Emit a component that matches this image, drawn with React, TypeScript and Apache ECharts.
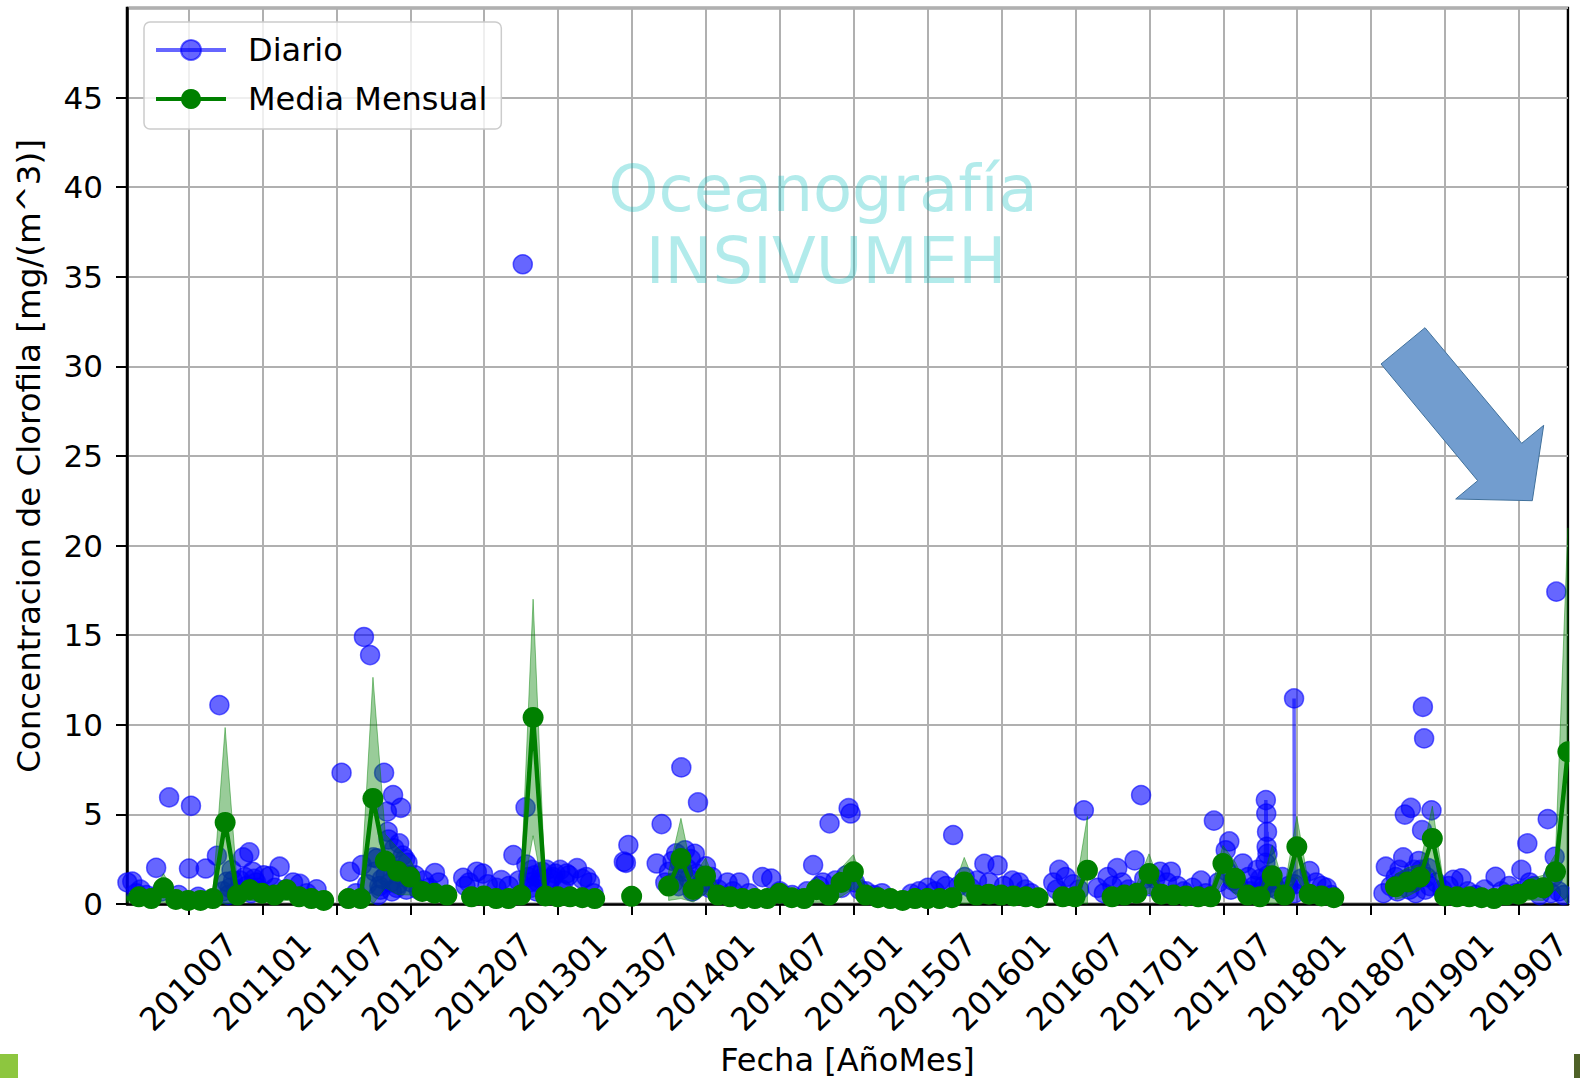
import React, { useEffect, useRef } from "react";
import * as echarts from "echarts";

// ---- Daily chlorophyll (Diario): [date, mg/m^3] ----
const diario2010: [string, number][] = [
  ["2010-02-02", 1.2], ["2010-02-13", 1.25], ["2010-02-22", 0.6], ["2010-03-04", 0.8], ["2010-03-19", 0.5],
  ["2010-04-12", 2.02], ["2010-04-25", 0.7], ["2010-05-14", 5.95], ["2010-06-07", 0.5], ["2010-07-02", 1.98],
  ["2010-07-07", 5.48], ["2010-07-25", 0.4], ["2010-08-13", 1.98], ["2010-09-10", 2.69], ["2010-09-16", 11.1],
  ["2010-09-25", 0.7], ["2010-10-04", 1.24], ["2010-10-08", 0.5], ["2010-10-12", 0.9], ["2010-10-16", 1.9],
  ["2010-10-20", 1.3], ["2010-10-28", 0.6], ["2010-11-03", 0.8], ["2010-11-07", 1.3], ["2010-11-14", 2.6],
  ["2010-11-18", 1.5], ["2010-11-22", 1.0], ["2010-11-29", 2.88], ["2010-12-03", 0.6], ["2010-12-07", 1.8],
  ["2010-12-11", 1.4], ["2010-12-16", 1.2], ["2010-12-20", 0.9], ["2010-12-25", 0.7],
];
const diario2011: [string, number][] = [
  ["2011-01-04", 1.6], ["2011-01-19", 1.55], ["2011-02-01", 0.9], ["2011-02-12", 2.08], ["2011-02-25", 0.8],
  ["2011-03-16", 1.2], ["2011-04-02", 1.12], ["2011-04-19", 0.6], ["2011-05-13", 0.82], ["2011-07-14", 7.32],
  ["2011-08-04", 1.8], ["2011-08-19", 0.6], ["2011-09-03", 2.17], ["2011-09-08", 14.9], ["2011-09-16", 1.1],
  ["2011-09-23", 13.89], ["2011-10-01", 2.6], ["2011-10-05", 1.8], ["2011-10-10", 2.55], ["2011-10-13", 0.5],
  ["2011-10-16", 1.0], ["2011-10-19", 0.8], ["2011-10-23", 1.4], ["2011-10-28", 7.32], ["2011-11-01", 1.6],
  ["2011-11-04", 5.15], ["2011-11-06", 4.03], ["2011-11-08", 3.6], ["2011-11-13", 1.2], ["2011-11-16", 0.7],
  ["2011-11-19", 6.08], ["2011-11-22", 3.1], ["2011-11-25", 1.9], ["2011-11-28", 0.9], ["2011-12-01", 1.1],
  ["2011-12-04", 3.38], ["2011-12-08", 5.37], ["2011-12-13", 2.7], ["2011-12-16", 1.5], ["2011-12-19", 2.5],
  ["2011-12-22", 0.8], ["2011-12-25", 2.3], ["2011-12-29", 1.6],
];
const diario2012: [string, number][] = [
  ["2012-01-04", 1.2], ["2012-01-13", 1.6], ["2012-01-22", 0.8], ["2012-02-04", 1.3], ["2012-02-16", 0.9],
  ["2012-03-01", 1.73], ["2012-03-10", 1.2], ["2012-05-10", 1.46], ["2012-05-16", 1.0], ["2012-05-25", 1.2],
  ["2012-06-13", 1.8], ["2012-06-28", 1.7], ["2012-07-10", 1.1], ["2012-08-01", 0.9], ["2012-08-13", 1.33],
  ["2012-09-01", 1.0], ["2012-09-12", 2.73], ["2012-09-25", 1.3], ["2012-10-05", 35.7], ["2012-10-12", 5.39],
  ["2012-10-14", 2.2], ["2012-10-19", 1.5], ["2012-10-22", 1.2], ["2012-10-25", 0.9], ["2012-10-28", 1.9],
  ["2012-11-04", 1.6], ["2012-11-08", 0.7], ["2012-11-13", 1.2], ["2012-11-18", 1.4], ["2012-11-22", 1.8],
  ["2012-12-03", 1.9], ["2012-12-08", 1.0], ["2012-12-13", 1.4], ["2012-12-19", 1.5], ["2012-12-25", 1.7],
];
const diario2013: [string, number][] = [
  ["2013-01-06", 1.9], ["2013-01-11", 0.8], ["2013-01-16", 1.3], ["2013-01-22", 1.7], ["2013-01-28", 1.6],
  ["2013-02-16", 2.0], ["2013-02-28", 1.4], ["2013-03-10", 1.5], ["2013-03-19", 1.2], ["2013-03-28", 0.6],
  ["2013-06-11", 2.36], ["2013-06-16", 2.3], ["2013-06-22", 3.29], ["2013-09-01", 2.26], ["2013-09-13", 4.46],
  ["2013-09-22", 1.2], ["2013-10-01", 1.8], ["2013-10-10", 2.4], ["2013-10-13", 1.2], ["2013-10-19", 2.82],
  ["2013-10-25", 1.0], ["2013-10-28", 2.3], ["2013-11-01", 7.62], ["2013-11-05", 1.8], ["2013-11-10", 3.0],
  ["2013-11-14", 2.0], ["2013-11-19", 1.4], ["2013-11-24", 2.5], ["2013-11-28", 0.7], ["2013-12-04", 2.8],
  ["2013-12-08", 1.7], ["2013-12-12", 5.67], ["2013-12-16", 1.0], ["2013-12-22", 1.2],
];
const diario2014: [string, number][] = [
  ["2014-01-01", 2.1], ["2014-01-10", 0.9], ["2014-01-16", 1.5], ["2014-02-01", 0.8], ["2014-02-22", 1.2],
  ["2014-03-07", 0.7], ["2014-03-23", 1.2], ["2014-04-16", 0.6], ["2014-05-19", 1.5], ["2014-06-10", 1.42],
  ["2014-07-01", 0.7], ["2014-08-01", 0.5], ["2014-09-07", 0.7], ["2014-09-22", 2.17], ["2014-10-07", 1.0],
  ["2014-10-16", 1.2], ["2014-11-02", 4.5], ["2014-11-16", 1.3], ["2014-12-01", 0.9], ["2014-12-13", 1.6],
  ["2014-12-19", 5.35], ["2014-12-24", 5.05],
];
const diario2015: [string, number][] = [
  ["2015-01-04", 1.2], ["2015-01-16", 0.8], ["2015-02-01", 0.7], ["2015-02-19", 0.5], ["2015-03-10", 0.6],
  ["2015-05-22", 0.56], ["2015-06-10", 0.7], ["2015-07-01", 0.9], ["2015-07-19", 0.7], ["2015-08-01", 1.3],
  ["2015-08-16", 1.0], ["2015-09-03", 3.85], ["2015-09-16", 1.0], ["2015-10-01", 1.5], ["2015-10-16", 0.9],
  ["2015-11-01", 1.3], ["2015-11-19", 2.24], ["2015-12-01", 1.2], ["2015-12-22", 2.15],
];
const diario2016: [string, number][] = [
  ["2016-01-07", 1.0], ["2016-01-28", 1.3], ["2016-02-13", 1.2], ["2016-02-28", 0.8], ["2016-03-13", 0.6],
  ["2016-05-07", 1.2], ["2016-05-16", 0.8], ["2016-05-22", 1.9], ["2016-06-07", 1.5], ["2016-06-25", 1.1],
  ["2016-07-10", 0.8], ["2016-07-22", 5.23], ["2016-08-25", 0.9], ["2016-09-10", 0.6], ["2016-09-19", 1.5],
  ["2016-10-01", 1.0], ["2016-10-13", 2.0], ["2016-10-25", 1.2], ["2016-11-10", 0.8], ["2016-11-25", 2.43],
  ["2016-12-11", 6.08], ["2016-12-19", 1.4],
];
const diario2017: [string, number][] = [
  ["2017-01-01", 1.0], ["2017-01-16", 1.4], ["2017-01-28", 1.8], ["2017-02-13", 1.2], ["2017-02-22", 1.8],
  ["2017-03-10", 1.0], ["2017-03-25", 0.7], ["2017-04-16", 0.9], ["2017-05-07", 1.3], ["2017-05-19", 0.6],
  ["2017-06-08", 4.65], ["2017-06-19", 1.2], ["2017-07-07", 3.0], ["2017-07-11", 1.8], ["2017-07-16", 3.49],
  ["2017-07-20", 0.8], ["2017-07-25", 1.3], ["2017-08-07", 1.1], ["2017-08-19", 2.26], ["2017-09-01", 1.5],
  ["2017-09-06", 0.7], ["2017-09-16", 1.0], ["2017-09-24", 1.9], ["2017-10-01", 1.4], ["2017-10-04", 0.7],
  ["2017-10-09", 1.0], ["2017-10-14", 2.3], ["2017-10-15", 5.8], ["2017-10-16", 5.05], ["2017-10-17", 3.19],
  ["2017-10-18", 4.03], ["2017-10-19", 2.8], ["2017-10-20", 1.6], ["2017-10-21", 0.9], ["2017-10-25", 1.3],
  ["2017-11-01", 1.2], ["2017-11-13", 0.8], ["2017-11-25", 1.5], ["2017-12-10", 1.0], ["2017-12-24", 11.47],
  ["2017-12-25", 1.1], ["2017-12-26", 0.6],
];
const diario2018: [string, number][] = [
  ["2018-01-10", 1.4], ["2018-02-01", 1.84], ["2018-02-16", 1.2], ["2018-03-01", 1.0], ["2018-03-13", 0.9],
  ["2018-03-25", 0.5], ["2018-08-01", 0.6], ["2018-08-07", 2.08], ["2018-08-19", 1.0], ["2018-09-01", 1.5],
  ["2018-09-05", 0.7], ["2018-09-10", 1.9], ["2018-09-14", 1.2], ["2018-09-19", 2.6], ["2018-09-23", 4.99],
  ["2018-10-01", 1.4], ["2018-10-04", 0.8], ["2018-10-08", 5.36], ["2018-10-12", 1.2], ["2018-10-16", 1.9],
  ["2018-10-20", 0.6], ["2018-10-28", 2.4], ["2018-11-02", 1.9], ["2018-11-05", 4.12], ["2018-11-07", 11.0],
  ["2018-11-10", 9.24], ["2018-11-13", 0.8], ["2018-11-16", 1.5], ["2018-11-20", 2.0], ["2018-11-24", 1.0],
  ["2018-11-28", 5.23], ["2018-12-10", 1.2], ["2018-12-25", 0.8],
];
const diario2019: [string, number][] = [
  ["2019-01-10", 1.0], ["2019-01-22", 1.35], ["2019-02-10", 1.43], ["2019-02-25", 0.7], ["2019-03-16", 0.5],
  ["2019-04-07", 0.8], ["2019-05-04", 1.52], ["2019-05-19", 0.7], ["2019-06-07", 1.0], ["2019-06-22", 0.6],
  ["2019-07-07", 1.9], ["2019-07-14", 0.8], ["2019-07-22", 3.38], ["2019-07-28", 1.2], ["2019-08-07", 1.0],
  ["2019-08-22", 0.5], ["2019-09-03", 0.9], ["2019-09-11", 4.74], ["2019-09-19", 0.6], ["2019-09-24", 1.5],
  ["2019-09-28", 2.63], ["2019-10-02", 17.43], ["2019-10-08", 0.7], ["2019-10-20", 0.5],
];

// ---- Monthly mean (Media Mensual) and standard deviation, Jan..Dec per year (null = no data) ----
const mediaAnios = [2010, 2011, 2012, 2013, 2014, 2015, 2016, 2017, 2018, 2019];
const media2010 = [0.3, 0.4, 0.3, 0.9, 0.25, 0.2, 0.2, 0.3, 4.55, 0.5, 0.8, 0.6];
const media2011 = [0.5, 0.8, 0.4, 0.3, 0.2, null, 0.3, 0.3, 5.89, 2.4, 1.83, 1.5];
const media2012 = [0.7, 0.6, 0.5, null, 0.4, 0.45, 0.3, 0.3, 0.5, 10.41, 0.45, 0.4];
const media2013 = [0.4, 0.35, 0.3, null, null, 0.43, null, null, 1.0, 2.54, 0.81, 1.56];
const media2014 = [0.5, 0.4, 0.3, 0.3, 0.3, 0.6, 0.35, 0.3, 0.8, 0.5, 1.2, 1.8];
const media2015 = [0.5, 0.35, 0.3, 0.2, 0.3, 0.3, 0.3, 0.35, 1.23, 0.5, 0.55, 0.5];
const media2016 = [0.45, 0.4, 0.35, null, 0.4, 0.4, 1.89, null, 0.4, 0.5, 0.6, 1.7];
const media2017 = [0.55, 0.5, 0.45, 0.4, 0.4, 2.26, 1.43, 0.5, 0.4, 1.57, 0.5, 3.19];
const media2018 = [0.55, 0.45, 0.35, null, null, null, null, 0.96, 1.23, 1.5, 3.66, 0.45];
const media2019 = [0.4, 0.4, 0.35, 0.3, 0.5, 0.55, 0.82, 0.9, 1.8, 8.49];
const desv2010 = [0.2, 0.3, 0.2, 0.8, 0.2, 0.2, 0.2, 0.3, 5.3, 0.4, 0.6, 0.4];
const desv2011 = [0.4, 0.6, 0.3, 0.3, 0.2, null, 0.2, 0.3, 6.76, 1.5, 1.3, 1.0];
const desv2012 = [0.5, 0.4, 0.3, null, 0.3, 0.3, 0.2, 0.3, 0.5, 6.6, 0.4, 0.3];
const desv2013 = [0.3, 0.3, 0.2, null, null, 0.2, null, null, 0.8, 2.24, 0.7, 1.0];
const desv2014 = [0.4, 0.3, 0.2, 0.2, 0.2, 0.5, 0.3, 0.2, 0.7, 0.4, 0.8, 0.95];
const desv2015 = [0.4, 0.3, 0.2, 0.2, 0.2, 0.2, 0.2, 0.3, 1.37, 0.4, 0.4, 0.4];
const desv2016 = [0.3, 0.3, 0.3, null, 0.3, 0.3, 3.0, null, 0.3, 0.4, 0.5, 1.1];
const desv2017 = [0.4, 0.4, 0.3, 0.3, 0.3, 1.0, 0.9, 0.4, 0.3, 1.7, 0.4, 1.7];
const desv2018 = [0.4, 0.3, 0.3, null, null, null, null, 0.7, 0.8, 0.7, 1.8, 0.3];
const desv2019 = [0.3, 0.3, 0.3, 0.2, 0.4, 0.4, 0.6, 0.7, 1.0, 12.5];

// ---- X tick labels (AñoMes) ----
const ticksAnioMes = [
  "201007", "201101", "201107", "201201", "201207", "201301", "201307", "201401", "201407", "201501",
  "201507", "201601", "201607", "201701", "201707", "201801", "201807", "201901", "201907",
];

// axis position helpers (months since 2010-01-01)
const daysIn = (y: number, m: number) => new Date(Date.UTC(y, m, 0)).getUTCDate();
const monthPos = (y: number, m: number, d: number) => (y - 2010) * 12 + (m - 1) + (d - 1) / daysIn(y, m);

export default function App() {
  const ref = useRef<HTMLDivElement>(null);

  useEffect(() => {
    if (!ref.current) return;
    const chart = echarts.init(ref.current, undefined, { renderer: "svg" });

    // daily series, breaking the line where days are not consecutive
    const diario = [
      ...diario2010, ...diario2011, ...diario2012, ...diario2013, ...diario2014,
      ...diario2015, ...diario2016, ...diario2017, ...diario2018, ...diario2019,
    ].sort((a, b) => (a[0] < b[0] ? -1 : a[0] > b[0] ? 1 : 0));
    const blueData: any[] = [];
    let prevDay: number | null = null;
    for (const [f, v] of diario) {
      const [y, m, d] = f.split("-").map(Number);
      const day = Date.UTC(y, m - 1, d) / 86400000;
      const x = monthPos(y, m, d);
      if (prevDay !== null && day - prevDay > 1) blueData.push([x - 0.001, "-"]);
      blueData.push([x, v]);
      prevDay = day;
    }

    const medias = [media2010, media2011, media2012, media2013, media2014, media2015, media2016, media2017, media2018, media2019];
    const desvs = [desv2010, desv2011, desv2012, desv2013, desv2014, desv2015, desv2016, desv2017, desv2018, desv2019];
    const greenData: any[] = [];
    const bandSegs: { x: number; lo: number; hi: number }[][] = [];
    let seg: { x: number; lo: number; hi: number }[] | null = null;
    mediaAnios.forEach((y, yi) => {
      medias[yi].forEach((v, mi) => {
        const m = mi + 1;
        const x = monthPos(y, m, daysIn(y, m)); // month-end label
        const s = desvs[yi][mi];
        if (v === null || s === null) {
          greenData.push([x, "-"]);
          seg = null;
        } else {
          greenData.push([x, v]);
          if (!seg) {
            seg = [];
            bandSegs.push(seg);
          }
          seg.push({ x, lo: Math.max(0, v - s), hi: v + s });
        }
      });
    });

    const tickPos = ticksAnioMes.map((t) => monthPos(Number(t.slice(0, 4)), Number(t.slice(4, 6)), 1));
    const labelFor = (val: number) => {
      let best = 0;
      tickPos.forEach((p, i) => {
        if (Math.abs(p - val) < Math.abs(tickPos[best] - val)) best = i;
      });
      return ticksAnioMes[best];
    };

    const font = "DejaVu Sans";
    const blue = "rgba(0,0,255,0.6)";

    chart.setOption({
      animation: false,
      backgroundColor: "#ffffff",
      textStyle: { fontFamily: font },
      grid: {
        left: 127, right: 12, top: 8, bottom: 174,
        show: true, borderColor: "#000", borderWidth: 2.5, backgroundColor: "transparent",
        containLabel: false, outerBoundsMode: "none",
      },
      legend: {
        orient: "vertical",
        left: 144, top: 22,
        data: ["Diario", "Media Mensual"],
        itemWidth: 70, itemHeight: 25, itemGap: 17,
        padding: [12, 14, 14, 10],
        backgroundColor: "rgba(255,255,255,0.8)",
        borderColor: "#cccccc", borderWidth: 1.5, borderRadius: 6,
        lineStyle: { width: 4 },
        textStyle: { fontSize: 32, lineHeight: 32, color: "#000", fontFamily: font, padding: [0, 0, 0, 17] },
        selectedMode: false,
      },
      xAxis: {
        type: "value", min: 1.0, max: 117.98,
        axisLine: { show: true, onZero: false, lineStyle: { color: "#000", width: 2.5 } },
        axisTick: { show: true, customValues: tickPos, length: 11, lineStyle: { color: "#000", width: 2 } },
        axisLabel: {
          customValues: tickPos, formatter: (v: number) => labelFor(v),
          rotate: 45, align: "center", verticalAlign: "middle", margin: 78,
          fontSize: 32, color: "#000", fontFamily: font,
        },
        splitLine: { show: true, lineStyle: { color: "#b0b0b0", width: 2 } },
        name: "Fecha [AñoMes]", nameLocation: "middle", nameGap: 138,
        nameTextStyle: { fontSize: 32, color: "#000", fontFamily: font },
      },
      yAxis: {
        type: "value", min: 0, max: 50, interval: 5,
        axisLine: { show: true, lineStyle: { color: "#000", width: 2.5 } },
        axisTick: { show: true, length: 11, lineStyle: { color: "#000", width: 2 } },
        axisLabel: { showMaxLabel: false, fontSize: 31, margin: 24, color: "#000", fontFamily: font },
        splitLine: { show: true, lineStyle: { color: "#b0b0b0", width: 2 } },
        name: "Concentracion de Clorofila [mg/(m^3)]", nameLocation: "middle", nameGap: 82, nameRotate: 90,
        nameTextStyle: { fontSize: 32.5, color: "#000", fontFamily: font },
      },
      series: [
        {
          name: "Diario", type: "line", data: blueData, z: 2,
          symbol: "circle", symbolSize: 19, showSymbol: true, showAllSymbol: true, connectNulls: false,
          lineStyle: { color: blue, width: 3.5 },
          itemStyle: { color: blue, borderColor: blue, borderWidth: 1.5 },
          emphasis: { disabled: true }, silent: true,
        },
        {
          name: "banda", type: "custom", z: 3, silent: true,
          data: bandSegs.map((s, i) => [s[0].x, i]),
          encode: { x: 0, y: 1 },
          renderItem: (params: any, api: any) => {
            const sg = bandSegs[params.dataIndex];
            if (!sg || sg.length < 2) return { type: "group", children: [] };
            const top = sg.map((p) => api.coord([p.x, p.hi]));
            const bot = sg.slice().reverse().map((p) => api.coord([p.x, p.lo]));
            return {
              type: "polygon",
              shape: { points: top.concat(bot) },
              style: { fill: "rgba(0,128,0,0.4)", stroke: "rgba(0,128,0,0.45)", lineWidth: 1 },
            };
          },
        },
        {
          name: "Media Mensual", type: "line", data: greenData, z: 4,
          symbol: "circle", symbolSize: 21, showSymbol: true, showAllSymbol: true, connectNulls: false,
          lineStyle: { color: "#008000", width: 4.5 },
          itemStyle: { color: "#008000", borderColor: "#008000", borderWidth: 0 },
          emphasis: { disabled: true }, silent: true,
        },
      ],
      graphic: [
        {
          type: "text", x: 823, y: 189, z: 10, silent: true,
          style: { text: "Oceanografía", fontSize: 64, fontFamily: font, fill: "rgba(0,190,190,0.3)", textAlign: "center", textVerticalAlign: "middle" },
        },
        {
          type: "text", x: 826, y: 261, z: 10, silent: true,
          style: { text: "INSIVUMEH", fontSize: 64, fontFamily: font, fill: "rgba(0,190,190,0.3)", textAlign: "center", textVerticalAlign: "middle" },
        },
        {
          type: "polygon", z: 20, silent: true,
          shape: { points: [[1381, 364], [1425, 327.7], [1521.7, 443.3], [1543.7, 425.3], [1532.3, 500.7], [1455.7, 499], [1477.7, 480.7]] },
          style: { fill: "#729dcf", stroke: "#41719c", lineWidth: 1 },
        },
        { type: "rect", z: 30, silent: true, shape: { x: 1569.5, y: 0, width: 11, height: 904 }, style: { fill: "#ffffff" } },
        { type: "rect", z: 30, silent: true, shape: { x: 0, y: 1054, width: 18, height: 24 }, style: { fill: "#8dc63f" } },
        { type: "rect", z: 30, silent: true, shape: { x: 1574, y: 1054, width: 6, height: 24 }, style: { fill: "#4f6228" } },
      ],
    });

    return () => chart.dispose();
  }, []);

  return (
    <div
      ref={ref}
      style={{ position: "absolute", left: 0, top: 0, width: 1580, height: 1078, background: "#fff" }}
    />
  );
}
